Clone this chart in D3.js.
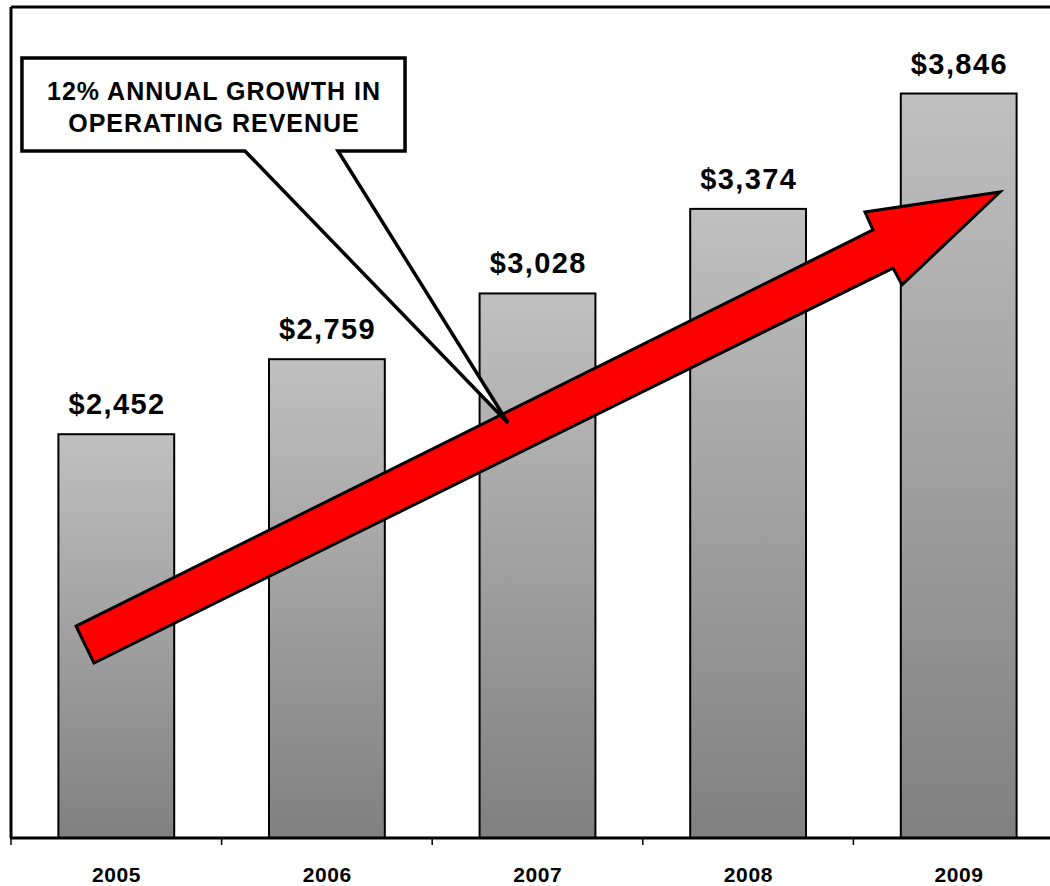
<!DOCTYPE html>
<html>
<head>
<meta charset="utf-8">
<script src="https://cdn.jsdelivr.net/npm/d3@7"></script>
<style>
  html, body { margin: 0; padding: 0; background: #fff; }
  svg { display: block; }
</style>
</head>
<body>
<svg id="chart" width="1050" height="886"></svg>
<script>
// ---- data ----
const years = ["2005", "2006", "2007", "2008", "2009"];
const revenue = [2452, 2759, 3028, 3374, 3846];
const valueLabels = ["$2,452", "$2,759", "$3,028", "$3,374", "$3,846"];
const calloutLines = ["12% ANNUAL GROWTH IN", "OPERATING REVENUE"];
// annotation shapes in data space: [category index position, value]
const arrowPoints = [
  [0.309, 1667], [4.093, 3288], [4.055, 3361], [4.696, 3443],
  [4.231, 3063], [4.188, 3132], [0.394, 1516]
];
const calloutPoints = [
  [0.052, 3991], [1.871, 3991], [1.871, 3611], [1.553, 3611],
  [2.360, 2498], [1.111, 3611], [0.052, 3611]
];
const yDomain = [800, 4200];

// ---- layout ----
const svg = d3.select("#chart");
const plotLeft = 11, plotRight = 1064, plotTop = 7, plotBottom = 838;
const FONT = "Arial, 'Liberation Sans', Helvetica, sans-serif";

const x = d3.scaleBand().domain(years).range([plotLeft, plotRight])
  .paddingInner(0.45).paddingOuter(0.225);
const xc = d3.scaleLinear().domain([0, years.length]).range([plotLeft, plotRight]);
const y = d3.scaleLinear().domain(yDomain).range([plotBottom, plotTop]);

// gradient
const defs = svg.append("defs");
const grad = defs.append("linearGradient").attr("id", "barGrad")
  .attr("x1", 0).attr("y1", 0).attr("x2", 0).attr("y2", 1);
grad.append("stop").attr("offset", "0%").attr("stop-color", "#c0c0c0");
grad.append("stop").attr("offset", "100%").attr("stop-color", "#808080");

// bars
svg.append("g").selectAll("rect").data(revenue).join("rect")
  .attr("x", (d, i) => x(years[i]))
  .attr("y", d => y(d))
  .attr("width", x.bandwidth())
  .attr("height", d => plotBottom - y(d))
  .attr("fill", "url(#barGrad)")
  .attr("stroke", "#000")
  .attr("stroke-width", 2);

// value labels
svg.append("g").selectAll("text").data(revenue).join("text")
  .attr("x", (d, i) => x(years[i]) + x.bandwidth() / 2 + 0.7)
  .attr("y", d => y(d) - 20)
  .attr("text-anchor", "middle")
  .attr("font-family", FONT)
  .attr("font-weight", "bold")
  .attr("font-size", 29)
  .attr("letter-spacing", 1.4)
  .attr("fill", "#000")
  .text((d, i) => valueLabels[i]);

// frame: top line and left axis
svg.append("line").attr("x1", plotLeft).attr("x2", 1050).attr("y1", plotTop).attr("y2", plotTop)
  .attr("stroke", "#000").attr("stroke-width", 3);
svg.append("line").attr("x1", plotLeft).attr("x2", plotLeft).attr("y1", plotTop).attr("y2", plotBottom)
  .attr("stroke", "#000").attr("stroke-width", 3);

// x axis
const xAxisG = svg.append("g").attr("transform", `translate(0,${plotBottom})`);
xAxisG.append("line").attr("x1", plotLeft - 1).attr("x2", 1050).attr("y1", 0).attr("y2", 0)
  .attr("stroke", "#000").attr("stroke-width", 3);
xAxisG.selectAll("line.tick").data(d3.range(years.length + 1)).join("line")
  .attr("class", "tick")
  .attr("x1", i => xc(i)).attr("x2", i => xc(i))
  .attr("y1", 0).attr("y2", 7)
  .attr("stroke", "#000").attr("stroke-width", 1.5);
xAxisG.selectAll("text").data(years).join("text")
  .attr("x", d => x(d) + x.bandwidth() / 2 + 0.3)
  .attr("y", 44)
  .attr("text-anchor", "middle")
  .attr("font-family", FONT)
  .attr("font-weight", "bold")
  .attr("font-size", 21)
  .attr("letter-spacing", 0.6)
  .text(d => d);

// arrow
const toPx = p => [xc(p[0]), y(p[1])];
svg.append("path")
  .attr("d", d3.line()(arrowPoints.map(toPx)) + "Z")
  .attr("fill", "#ff0000")
  .attr("stroke", "#000")
  .attr("stroke-width", 3)
  .attr("stroke-linejoin", "miter");

// callout
const cpx = calloutPoints.map(toPx);
svg.append("path")
  .attr("d", d3.line()(cpx) + "Z")
  .attr("fill", "#fff")
  .attr("stroke", "#000")
  .attr("stroke-width", 3.5)
  .attr("stroke-linejoin", "miter");
const cx = (cpx[0][0] + cpx[1][0]) / 2;
svg.append("g").selectAll("text").data(calloutLines).join("text")
  .attr("x", cx + 0.5)
  .attr("y", (d, i) => cpx[0][1] + 42 + i * 32)
  .attr("text-anchor", "middle")
  .attr("font-family", FONT)
  .attr("font-weight", "bold")
  .attr("font-size", 25)
  .attr("letter-spacing", 1)
  .text(d => d);
</script>
</body>
</html>
